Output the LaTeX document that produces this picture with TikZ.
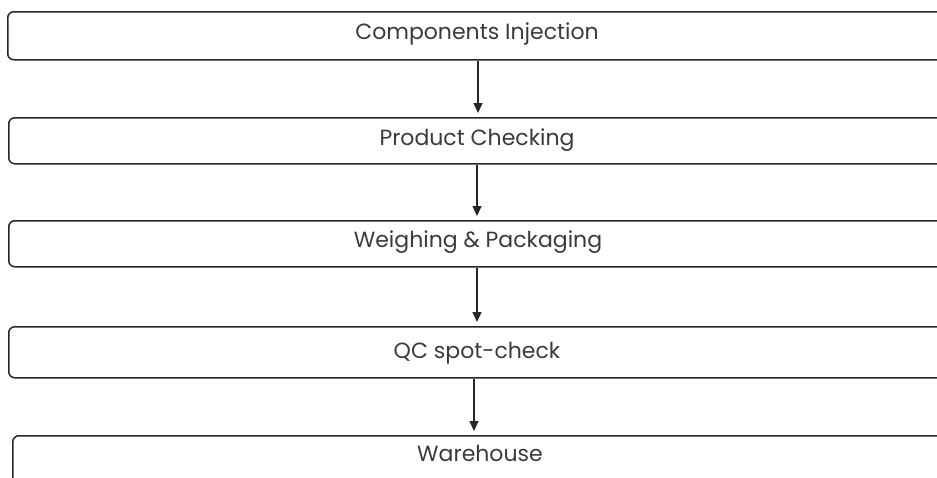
\documentclass[tikz,border=0pt]{standalone}
\usepackage{fontspec}
\setmainfont{Poppins}
\usetikzlibrary{arrows.meta}
\definecolor{txt}{HTML}{3a3a3a}
\begin{document}
\begin{tikzpicture}[x=1pt,y=-1pt,
  box/.style={draw=black!85,line width=1.5pt,rounded corners=6pt,rectangle,anchor=north west,inner sep=0pt},
  lbl/.style={text=txt,font=\fontsize{22}{26}\selectfont,inner sep=0pt},
  arr/.style={draw=black!85,line width=1.3pt,-{Triangle[length=10pt,width=9pt]},shorten >=4pt}]
\useasboundingbox (0,0) rectangle (937,477);
\clip (0,0) rectangle (937,477);
\node[box,minimum width=960pt,minimum height=48pt] (b1) at (7,11) {};
\node[box,minimum width=960pt,minimum height=46pt] (b2) at (8,117) {};
\node[box,minimum width=960pt,minimum height=46pt] (b3) at (8,220) {};
\node[box,minimum width=960pt,minimum height=51pt] (b4) at (8,326) {};
\node[box,minimum width=960pt,minimum height=60pt] (b5) at (12,435) {};
\node[lbl] (t1) at (477,34) {Components Injection};
\node[lbl] (t2) at (477,140) {Product Checking};
\node[lbl] (t3) at (478,242) {Weighing \& Packaging};
\node[lbl] (t4) at (477,353) {QC spot-check};
\node[lbl] (t5) at (480,453) {Warehouse};
\coordinate (x1) at (478,0);
\coordinate (x2) at (477,0);
\coordinate (x3) at (477,0);
\coordinate (x4) at (474,0);
\draw[arr] (x1 |- b1.south) -- (x1 |- b2.north);
\draw[arr] (x2 |- b2.south) -- (x2 |- b3.north);
\draw[arr] (x3 |- b3.south) -- (x3 |- b4.north);
\draw[arr] (x4 |- b4.south) -- (x4 |- b5.north);
\end{tikzpicture}
\end{document}
